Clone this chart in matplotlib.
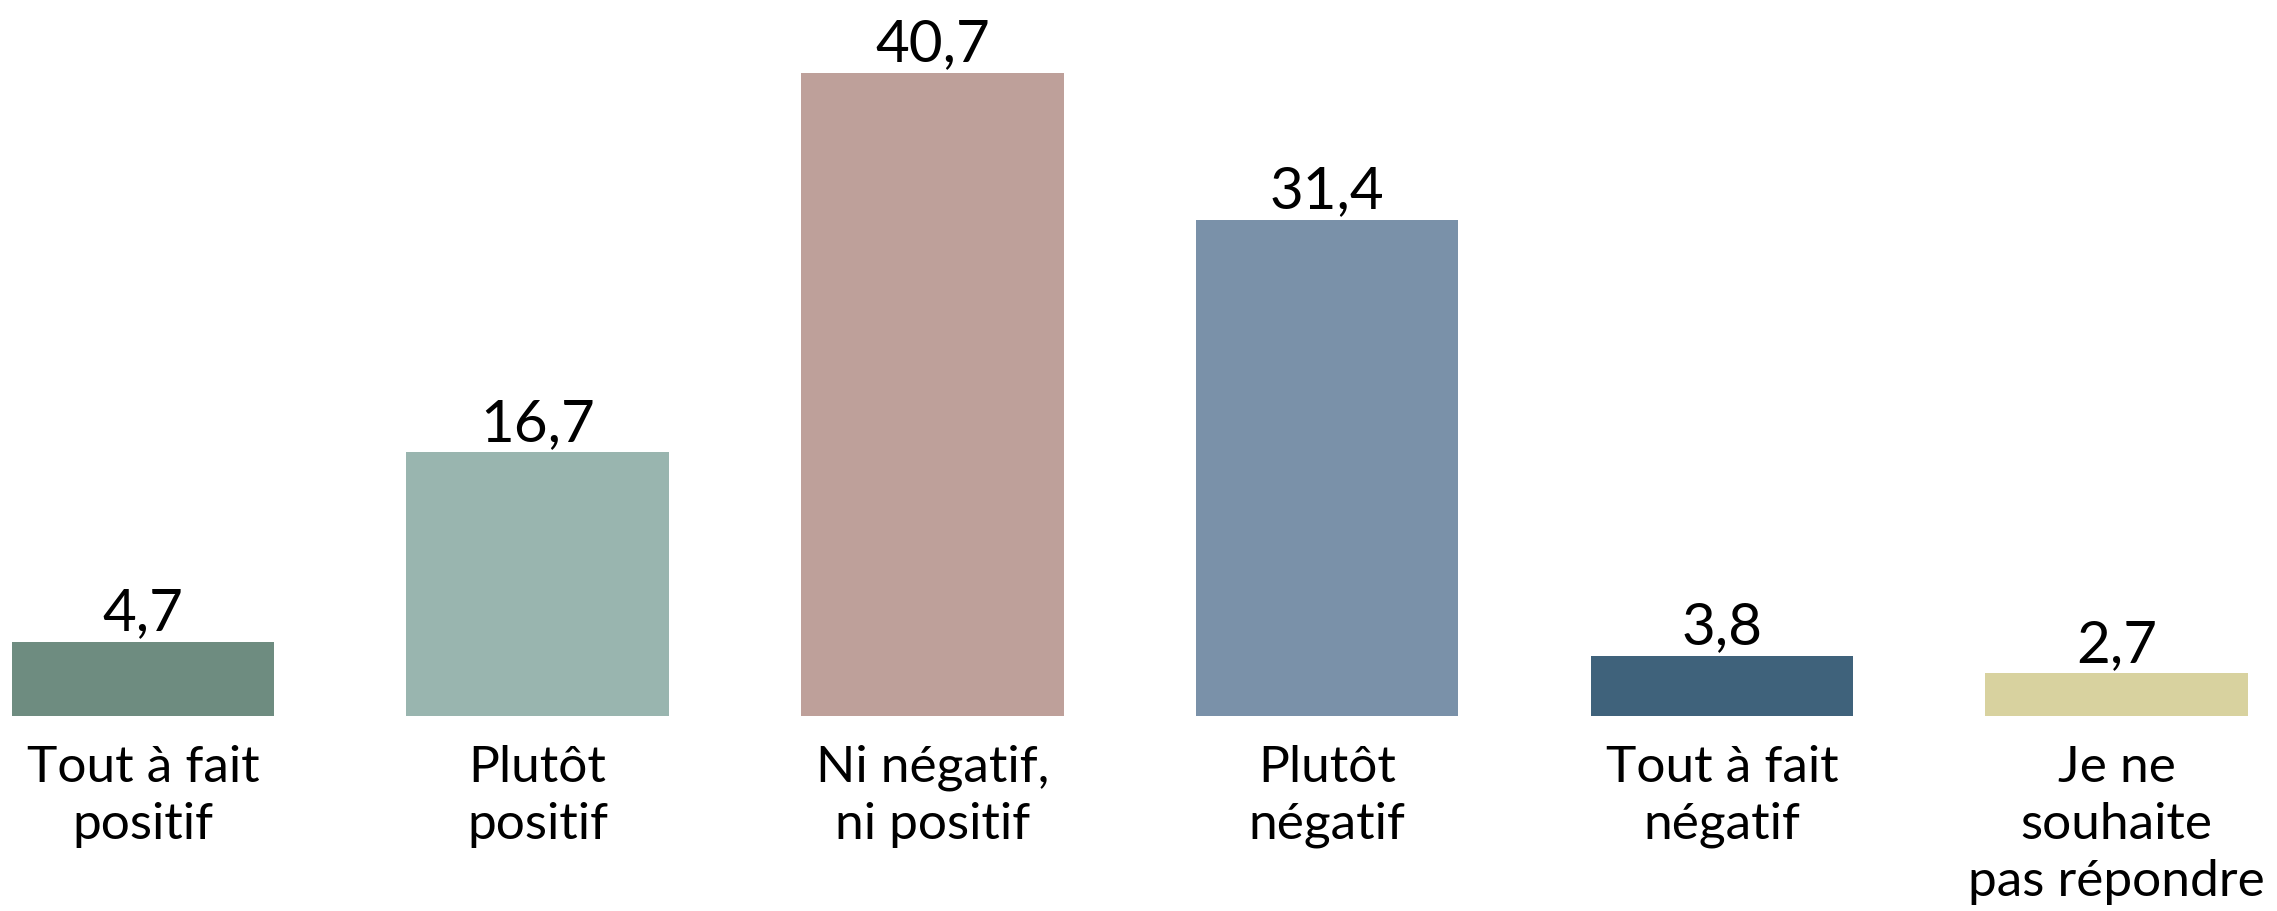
import matplotlib
matplotlib.use("Agg")
import matplotlib.pyplot as plt

categories = ["Tout à fait\npositif", "Plutôt\npositif", "Ni négatif,\nni positif",
              "Plutôt\nnégatif", "Tout à fait\nnégatif", "Je ne\nsouhaite\npas répondre"]
values = [4.7, 16.7, 40.7, 31.4, 3.8, 2.7]
value_labels = ["4,7", "16,7", "40,7", "31,4", "3,8", "2,7"]
colors = ["#6e8c80", "#99b5af", "#bea09a", "#7a91a9", "#3f627b", "#d8d29f"]

plt.rcParams['font.family'] = ['Lato', 'DejaVu Sans']

W, H = 2277, 912
fig = plt.figure(figsize=(W / 100, H / 100), dpi=100)
base = 195
ax = fig.add_axes([0, base / H, 1, (H - base) / H])

bw = 0.665
x = list(range(len(values)))
ax.bar(x, values, width=bw, color=colors)
ax.set_xlim(-bw / 2 - 11.6 / 395, 5 + bw / 2 + 29 / 395)
ax.set_ylim(0, (H - base) / 15.8)

for xi, v, t in zip(x, values, value_labels):
    ax.annotate(t, (xi, v), xytext=(0, 9), textcoords="offset points",
                ha="center", va="baseline", fontsize=42, color="black")

ax.set_xticks(x)
ax.set_xticklabels(categories, fontsize=37, linespacing=1.3)
ax.tick_params(axis="x", length=0, pad=20)
ax.set_yticks([])
for s in ax.spines.values():
    s.set_visible(False)

fig.savefig("out.png", dpi=100)
